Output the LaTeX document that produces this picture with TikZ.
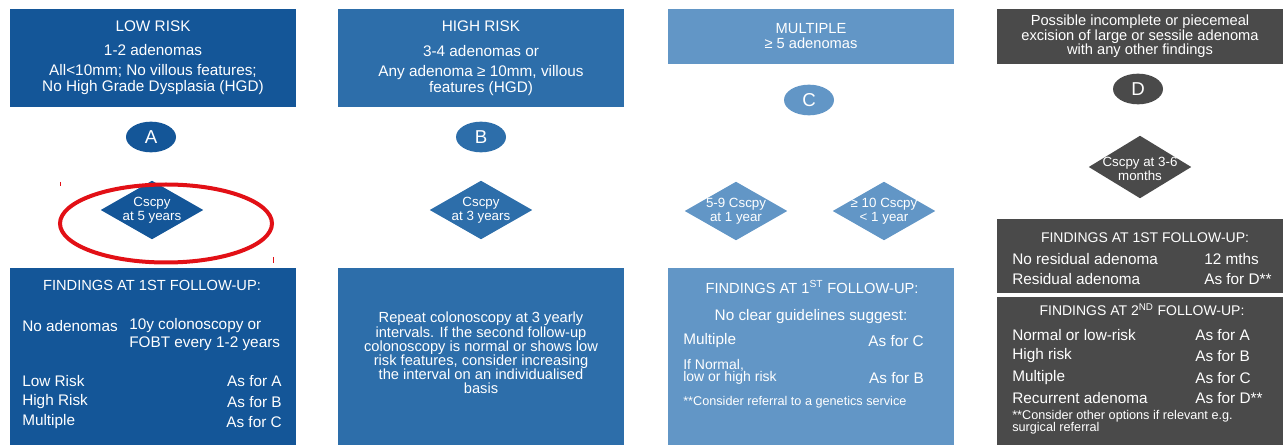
\documentclass[tikz,border=0pt]{standalone}
\usepackage{fontspec}
\setmainfont{Liberation Sans}
\usetikzlibrary{shapes.geometric}

\definecolor{riskA}{RGB}{20,86,152}
\definecolor{riskB}{RGB}{45,110,170}
\definecolor{riskC}{RGB}{98,150,198}
\definecolor{riskD}{RGB}{74,74,74}
\definecolor{markred}{RGB}{226,16,22}

\tikzset{
	box/.style={rectangle,text=white,align=center,inner sep=0pt,minimum width=214pt},
	riskletter/.style={shape=ellipse,text=white,inner sep=0pt,minimum width=37.5pt,minimum height=23pt,font=\fontsize{14}{14}\selectfont},
	decision/.style={shape=diamond,inner sep=0pt,minimum width=77pt,minimum height=44pt},
	dtext/.style={text=white,align=center,inner sep=0pt,font=\fontsize{10}{10.5}\selectfont},
	txt/.style={text=white,inner sep=0pt,font=\fontsize{11.5}{13}\selectfont},
	head/.style={text=white,inner sep=0pt,font=\fontsize{11}{12}\selectfont}
}

\begin{document}
\begin{tikzpicture}[x=0.75pt,y=-0.75pt]
		\useasboundingbox (0,0) rectangle (1287,448);
		
		% top boxes with the risk groups
		\node[box,fill=riskA,minimum height=73.5pt,font=\fontsize{11.5}{12}\selectfont] (lowrisk) at (153,58)
			{LOW RISK\\[6pt]1-2 adenomas\\[3pt]All<10mm; No villous features;\\No High Grade Dysplasia (HGD)};
		\node[box,fill=riskB,minimum height=73.5pt,font=\fontsize{11.5}{11.5}\selectfont] (highrisk) at (481,58)
			{HIGH RISK\\[7pt]3-4 adenomas or\\[4pt]Any adenoma ≥ 10mm, villous\\features (HGD)};
		\node[box,fill=riskC,minimum height=41.25pt,font=\fontsize{11}{11.25}\selectfont] (multiple) at (811,36.5)
			{MULTIPLE\\≥ 5 adenomas};
		\node[box,fill=riskD,minimum height=41.25pt,font=\fontsize{11}{11}\selectfont] (piecemeal) at (1140,36.5)
			{Possible incomplete or piecemeal\\excision of large or sessile adenoma\\with any other findings};
		
		% letters under the boxes
		\foreach \mynode/\mycol/\myx/\myy in {A/riskA/151/137,B/riskB/481/137,C/riskC/809/100,D/riskD/1138/89} {
			\node[riskletter,fill=\mycol] (ltr\mynode) at (\myx,\myy) {\mynode};
		}
		
		% surveillance diamonds (text set on top so the shapes keep their size)
		\foreach \mynode/\mycol/\myx/\myy/\mytext in {A/riskA/152/210/{Cscpy\\at 5 years},B/riskB/481/210/{Cscpy\\at 3 years},
			C1/riskC/736/211/{5-9 Cscpy\\at 1 year},C2/riskC/884/211/{≥ 10 Cscpy\\< 1 year}} {
			\node[decision,fill=\mycol] (cscpy\mynode) at (\myx,\myy) {};
			\node[dtext] (cscpy\mynode-t) at (cscpy\mynode) {\mytext};
		}
		\node[decision,fill=riskD,minimum height=47pt] (cscpyD) at (1140,167) {};
		\node[dtext] (cscpyD-t) at (1140,169) {Cscpy at 3-6\\months};
		
		% red ring round the first diamond
		\draw[markred,line width=3pt] (166,223.5) ellipse [x radius=79.5pt,y radius=29.25pt];
		\draw[markred,line width=0.75pt] (60,182) -- (60,186);
		\draw[markred,line width=0.75pt] (273,257) -- (273,263);
		
		% follow-up boxes
		\node[box,fill=riskA,minimum height=132.75pt] (fuA) at (153,356.5) {};
		\node[box,fill=riskB,minimum height=132.75pt] (fuB) at (481,356.5) {};
		\node[box,fill=riskC,minimum height=132.75pt] (fuC) at (811,356.5) {};
		\node[box,fill=riskD,minimum height=55.5pt] (fuD1) at (1140,256) {};
		\node[box,fill=riskD,minimum height=111pt] (fuD2) at (1140,371) {};
		
		% column A
		\node[head] (fuA-head) at (152,285) {FINDINGS AT 1ST FOLLOW-UP:};
		\node[txt,anchor=west] (fuA-none) at (22,326) {No adenomas};
		\node[txt,anchor=west,align=left,font=\fontsize{11.5}{13.5}\selectfont] (fuA-next) at (129,335) {10y colonoscopy or\\FOBT every 1-2 years};
		\foreach \myy/\myleft/\myright in {381/Low Risk/As for A,402/High Risk/As for B,422/Multiple/As for C} {
			\node[txt,anchor=west] (fuA-\myy) at (22,\myy) {\myleft};
			\node[txt,anchor=east] (fuA-\myy-r) at (282,\myy) {\myright};
		}
		
		% column B
		\node[txt,align=center,font=\fontsize{11}{10.6}\selectfont] (fuB-text) at (481,353)
			{Repeat colonoscopy at 3 yearly\\intervals. If the second follow-up\\colonoscopy is normal or shows low\\risk features, consider increasing\\the interval on an individualised\\basis};
		
		% column C
		\node[head] (fuC-head) at (812,287) {FINDINGS AT 1\textsuperscript{ST} FOLLOW-UP:};
		\node[txt] (fuC-sub) at (811,317) {No clear guidelines suggest:};
		\node[txt,anchor=west] (fuC-mult) at (683,341) {Multiple};
		\node[txt,anchor=east] (fuC-mult-r) at (924,341) {As for C};
		\node[txt,anchor=west,align=left,font=\fontsize{10.5}{9.5}\selectfont] (fuC-norm) at (683,372) {If Normal,\\low or high risk};
		\node[txt,anchor=east] (fuC-norm-r) at (924,378) {As for B};
		\node[txt,anchor=west,font=\fontsize{9.5}{10}\selectfont] (fuC-note) at (683,402) {**Consider referral to a genetics service};
		
		% column D
		\node[head,font=\fontsize{10.5}{11}\selectfont] (fuD1-head) at (1145,238) {FINDINGS AT 1ST FOLLOW-UP:};
		\foreach \myy/\myleft/\myright in {259/No residual adenoma/12 mths,279/Residual adenoma/As for D**} {
			\node[txt,anchor=west] (fuD1-\myy) at (1012,\myy) {\myleft};
			\node[txt,anchor=west] (fuD1-\myy-r) at (1204,\myy) {\myright};
		}
		\node[head,font=\fontsize{10.5}{11}\selectfont] (fuD2-head) at (1142,310) {FINDINGS AT 2\textsuperscript{ND} FOLLOW-UP:};
		\foreach \myy/\myleft/\myright in {335/Normal or low-risk/As for A,356/High risk/As for B,378/Multiple/As for C,398/Recurrent adenoma/As for D**} {
			\node[txt,anchor=west] (fuD2-\myy) at (1012,\myy) {\myleft};
			\node[txt,anchor=west] (fuD2-\myy-r) at (1195,\myy) {\myright};
		}
		\node[txt,anchor=west,align=left,font=\fontsize{9.5}{9}\selectfont] (fuD2-note) at (1012,422.5) {**Consider other options if relevant e.g.\\surgical referral};
\end{tikzpicture}
\end{document}
